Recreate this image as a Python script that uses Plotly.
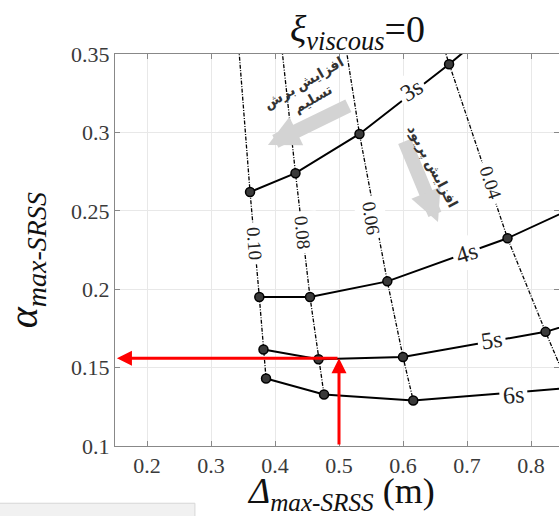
import plotly.graph_objects as go

# ---------------- data ----------------
yield_levels = ["0.10", "0.08", "0.06", "0.04"]
periods = ["3s", "4s", "5s", "6s"]

# each period curve, ordered by yield level 0.10, 0.08, 0.06, 0.04, 0.02
disp_3s = [0.361, 0.432, 0.532, 0.672, 0.780]
alpha_3s = [0.262, 0.274, 0.299, 0.3435, 0.380]
disp_4s = [0.3755, 0.4547, 0.5755, 0.7633, 0.920]
alpha_4s = [0.195, 0.195, 0.205, 0.2325, 0.262]
disp_5s = [0.382, 0.468, 0.600, 0.8227, 1.000]
alpha_5s = [0.1615, 0.1553, 0.1568, 0.1728, 0.195]
disp_6s = [0.386, 0.4766, 0.616, 0.860, 1.050]
alpha_6s = [0.1431, 0.1328, 0.129, 0.137, 0.150]
# 2s points (above the visible range), extend yield lines upward
disp_2s = [0.325, 0.385, 0.474, 0.585]
alpha_2s = [0.45, 0.45, 0.45, 0.45]

# label positions
period_label_x = [0.6136, 0.6995, 0.7386, 0.7719]
period_label_y = [0.327, 0.2231, 0.1676, 0.1325]
period_label_angle = [-33, -18, -8, -4]
yield_label_x = [0.3672, 0.4422, 0.551, 0.738]
yield_label_y = [0.2295, 0.2365, 0.2454, 0.2677]
yield_label_angle = [86, 85, 81, 72]

# example read-off
target_disp = 0.5
target_alpha = 0.156

x_ticks = [0.2, 0.3, 0.4, 0.5, 0.6, 0.7, 0.8]
y_ticks = [0.1, 0.15, 0.2, 0.25, 0.3, 0.35]

curves_x = [disp_3s, disp_4s, disp_5s, disp_6s]
curves_y = [alpha_3s, alpha_4s, alpha_5s, alpha_6s]

SERIF = "Liberation Serif, Times New Roman, serif"

fig = go.Figure()

# yield (dash-dot) lines
for i, lvl in enumerate(yield_levels):
    xs = [disp_2s[i]] + [c[i] for c in curves_x]
    ys = [alpha_2s[i]] + [c[i] for c in curves_y]
    fig.add_trace(go.Scatter(
        x=xs, y=ys, mode="lines",
        line=dict(color="black", width=1.3, dash="4px,1.5px,1px,1.5px"),
        showlegend=False, hoverinfo="skip"))

# period curves
for p, xs, ys in zip(periods, curves_x, curves_y):
    fig.add_trace(go.Scatter(
        x=xs, y=ys, mode="lines+markers",
        line=dict(color="black", width=2),
        marker=dict(size=9, color="#3a3a3a", line=dict(color="black", width=1.5)),
        showlegend=False, name=p))

ann = []
for p, x, y, a in zip(periods, period_label_x, period_label_y, period_label_angle):
    ann.append(dict(x=x, y=y, xref="x", yref="y", text=p, showarrow=False,
                    textangle=a, bgcolor="white", borderpad=3,
                    font=dict(family=SERIF, size=24, color="#222")))
for t, x, y, a in zip(yield_levels, yield_label_x, yield_label_y, yield_label_angle):
    ann.append(dict(x=x, y=y, xref="x", yref="y", text=t, showarrow=False,
                    textangle=a, bgcolor="white", borderpad=4,
                    font=dict(family=SERIF, size=19, color="#222")))

# gray arrows with Persian text
ann.append(dict(x=0.389, y=0.292, ax=0.517, ay=0.3175, xref="x", yref="y",
                axref="x", ayref="y", text="", showarrow=True, arrowhead=2,
                arrowsize=0.45, arrowwidth=14, arrowcolor="#d3d3d3"))
ann.append(dict(x=0.6547, y=0.2429, ax=0.6016, ay=0.2952, xref="x", yref="y",
                axref="x", ayref="y", text="", showarrow=True, arrowhead=2,
                arrowsize=0.45, arrowwidth=14, arrowcolor="#d3d3d3"))
ann.append(dict(x=0.45, y=0.327, xref="x", yref="y", text="<b>افزایش برش<br>تسلیم</b>",
                showarrow=False, textangle=-30,
                font=dict(family="Noto Sans, DejaVu Sans", size=14, color="#333")))
ann.append(dict(x=0.647, y=0.279, xref="x", yref="y", text="<b>افزایش پریود</b>",
                showarrow=False, textangle=62,
                font=dict(family="Noto Sans, DejaVu Sans", size=14, color="#333")))

# red read-off arrows
ann.append(dict(x=target_disp, y=target_alpha, ax=target_disp, ay=0.1,
                xref="x", yref="y", axref="x", ayref="y", text="", showarrow=True,
                arrowhead=2, arrowsize=1, arrowwidth=3, arrowcolor="#ff0000"))
ann.append(dict(x=0.153, y=target_alpha, ax=target_disp, ay=target_alpha,
                xref="x", yref="y", axref="x", ayref="y", text="", showarrow=True,
                arrowhead=2, arrowsize=1, arrowwidth=3, arrowcolor="#ff0000"))

# titles
ann.append(dict(x=0.547, y=1.055, xref="paper", yref="paper", yanchor="middle",
                xanchor="center",
                text="<i>ξ</i><sub><i>viscous</i></sub>=0", showarrow=False,
                font=dict(family=SERIF, size=38, color="#111")))
ann.append(dict(x=0.509, y=-0.122, xref="paper", yref="paper", yanchor="middle",
                xanchor="center",
                text="<i>Δ</i><sub><i>max-SRSS</i></sub> (m)", showarrow=False,
                font=dict(family=SERIF, size=36, color="#111")))
ann.append(dict(x=-0.2, y=0.4745, xref="paper", yref="paper", textangle=-90,
                xanchor="center", yanchor="middle",
                text="<i>α</i><sub><i>max-SRSS</i></sub>", showarrow=False,
                font=dict(family=SERIF, size=40, color="#111")))

fig.update_layout(
    width=559, height=516,
    margin=dict(l=115, r=0, t=54, b=70, autoexpand=False),
    paper_bgcolor="white", plot_bgcolor="white",
    annotations=ann,
    shapes=[dict(type="rect", xref="paper", yref="paper",
                 x0=-0.27, x1=0.18, y0=-0.146, y1=-0.2,
                 fillcolor="#f1f1f1", line=dict(color="#d6d6d6", width=1),
                 layer="below")],
)
fig.update_xaxes(range=[0.15, 0.84375], tickvals=x_ticks,
                 ticktext=[f"{v:g}" for v in x_ticks],
                 showgrid=True, gridcolor="#e8e8e8", gridwidth=1,
                 showline=True, linecolor="#888", linewidth=1, mirror="ticks",
                 ticks="inside", ticklen=5, tickcolor="#888", zeroline=False,
                 tickfont=dict(family=SERIF, size=22, color="#3a3a3a"))
fig.update_yaxes(range=[0.1, 0.35], tickvals=y_ticks,
                 ticktext=[f"{v:g}" for v in y_ticks],
                 showgrid=True, gridcolor="#e8e8e8", gridwidth=1,
                 showline=True, linecolor="#888", linewidth=1, mirror="ticks",
                 ticks="inside", ticklen=5, tickcolor="#888", zeroline=False,
                 tickfont=dict(family=SERIF, size=22, color="#3a3a3a"))

fig.write_html("out.html", config={"displayModeBar": False},
               post_script="document.body.style.margin='0';document.body.style.overflow='hidden';")
